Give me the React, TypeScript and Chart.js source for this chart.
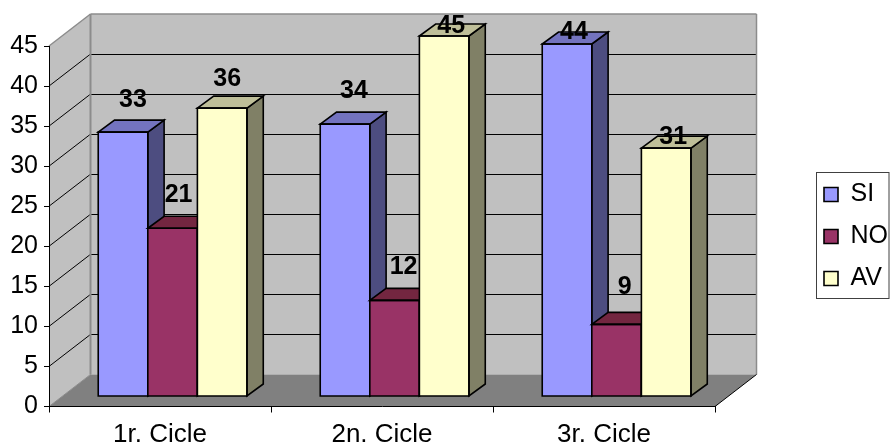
import React, { useEffect, useRef } from "react";
import { Chart, registerables } from "chart.js";

Chart.register(...registerables);

const categories = ["1r. Cicle", "2n. Cicle", "3r. Cicle"];
const si = [33, 34, 44];
const no = [21, 12, 9];
const av = [36, 45, 31];

const FONT = "'Liberation Sans', Arial, sans-serif";
const WALL_DX = 41.5;
const WALL_DY = 32;
const BAR_DX = 16.3;
const BAR_DY = 12;
const SHIFT_X = (WALL_DX - BAR_DX) / 2;
const SHIFT_Y = (WALL_DY - BAR_DY) / 2;

const faces = [
  { top: "#7373BF", side: "#4D4D80" },
  { top: "#732640", side: "#4D1A33" },
  { top: "#BFBF99", side: "#808066" },
];
// label nudges relative to each bar's top centre, [dataset][category]
const labelNudge = [
  [[10, -33], [9, -34.5], [7, -13]],
  [[6, -34.5], [9, -34], [8, -38]],
  [[5, -30], [7, -11], [7, -12]],
];

const poly = (ctx: CanvasRenderingContext2D, pts: number[][], fill?: string, stroke?: string, lw = 1) => {
  ctx.beginPath();
  pts.forEach((p, i) => (i ? ctx.lineTo(p[0], p[1]) : ctx.moveTo(p[0], p[1])));
  ctx.closePath();
  if (fill) {
    ctx.fillStyle = fill;
    ctx.fill();
  }
  if (stroke) {
    ctx.strokeStyle = stroke;
    ctx.lineWidth = lw;
    ctx.stroke();
  }
};

const line = (ctx: CanvasRenderingContext2D, x1: number, y1: number, x2: number, y2: number, c: string, lw = 1) => {
  ctx.beginPath();
  ctx.moveTo(x1, y1);
  ctx.lineTo(x2, y2);
  ctx.strokeStyle = c;
  ctx.lineWidth = lw;
  ctx.stroke();
};

const walls = {
  id: "walls",
  beforeDraw(chart: any) {
    const { ctx, chartArea: a, scales } = chart;
    const { left: l, right: r, top: t, bottom: b } = a;
    const dx = WALL_DX;
    const dy = WALL_DY;
    ctx.save();
    poly(ctx, [[l + dx, t - dy], [r + dx, t - dy], [r + dx, b - dy], [l + dx, b - dy]], "#C0C0C0");
    poly(ctx, [[l, t], [l + dx, t - dy], [l + dx, b - dy], [l, b]], "#C0C0C0");
    poly(ctx, [[l, b], [l + dx, b - dy], [r + dx, b - dy], [r, b]], "#808080");
    for (const tick of scales.y.ticks) {
      if (tick.value === 0 || tick.value === 45) continue;
      const y = scales.y.getPixelForValue(tick.value);
      const by = Math.round(y - dy) + 0.5;
      line(ctx, l + dx, by, r + dx, by, "#000000", 1);
      line(ctx, l, y, l + dx, y - dy, "#000000", 1);
    }
    const grey = "#8C8C8C";
    line(ctx, l, t, l + dx, t - dy, grey, 1.5);
    line(ctx, l + dx, t - dy, r + dx, t - dy, grey, 1.5);
    line(ctx, l + dx, t - dy, l + dx, b - dy, grey, 2);
    line(ctx, r + dx, t - dy, r + dx, b - dy, grey, 1.5);
    line(ctx, l, b, l + dx, b - dy, grey, 1);
    line(ctx, r, b, r + dx, b - dy, "#000000", 1);
    ctx.restore();
  },
};

const bars3d = {
  id: "bars3d",
  beforeDatasetsDraw(chart: any) {
    const { ctx } = chart;
    ctx.save();
    ctx.translate(SHIFT_X, -SHIFT_Y);
    ctx.lineJoin = "miter";
    chart.data.datasets.forEach((_: any, d: number) => {
      const meta = chart.getDatasetMeta(d);
      meta.data.forEach((el: any) => {
        el.draw(ctx);
        const x1 = el.x - el.width / 2;
        const x2 = el.x + el.width / 2;
        const y = el.y;
        const b = el.base;
        poly(ctx, [[x2, y], [x2 + BAR_DX, y - BAR_DY], [x2 + BAR_DX, b - BAR_DY], [x2, b]], faces[d].side, "#000000", 1.6);
        poly(ctx, [[x1, y], [x1 + BAR_DX, y - BAR_DY], [x2 + BAR_DX, y - BAR_DY], [x2, y]], faces[d].top, "#000000", 1.6);
        poly(ctx, [[x1, y], [x2, y], [x2, b], [x1, b]], undefined, "#000000", 1.6);
      });
    });
    ctx.fillStyle = "#000000";
    ctx.font = `bold 25px ${FONT}`;
    ctx.textAlign = "center";
    ctx.textBaseline = "middle";
    chart.data.datasets.forEach((ds: any, d: number) => {
      chart.getDatasetMeta(d).data.forEach((el: any, i: number) => {
        const n = labelNudge[d][i];
        ctx.fillText(String(ds.data[i]), el.x + n[0], el.y + n[1] + 1);
      });
    });
    ctx.restore();
    return false;
  },
};

const legendFrame = {
  id: "legendFrame",
  afterLayout(chart: any) {
    chart.legend.bottom -= 19;
    chart.legend.left += 8;
  },
  afterDraw(chart: any) {
    const { ctx } = chart;
    ctx.save();
    ctx.strokeStyle = "#404040";
    ctx.lineWidth = 1;
    ctx.strokeRect(816.5, 172.5, 72.5, 126);
    ctx.restore();
  },
};

export default function App() {
  const ref = useRef<HTMLCanvasElement>(null);
  useEffect(() => {
    document.body.style.margin = "0";
    document.body.style.overflow = "hidden";
    const chart = new Chart(ref.current as HTMLCanvasElement, {
      type: "bar",
      data: {
        labels: categories,
        datasets: [
          { label: "SI", data: si, backgroundColor: "#9999FF", borderWidth: 0 },
          { label: "NO", data: no, backgroundColor: "#993366", borderWidth: 0 },
          { label: "AV", data: av, backgroundColor: "#FFFFCC", borderWidth: 0 },
        ],
      },
      options: {
        responsive: false,
        animation: false,
        layout: { padding: { top: 46, bottom: 0, left: 0, right: 0 } },
        datasets: { bar: { categoryPercentage: 0.67, barPercentage: 1 } },
        plugins: {
          tooltip: { enabled: false },
          title: { display: false },
          legend: {
            display: true,
            position: "right",
            labels: {
              boxWidth: 14,
              boxHeight: 14,
              padding: 17,
              color: "#000000",
              font: { family: FONT, size: 25 },
              generateLabels(c: any) {
                return c.data.datasets.map((ds: any, i: number) => ({
                  text: ds.label,
                  fillStyle: ds.backgroundColor,
                  strokeStyle: "#000000",
                  lineWidth: 1.6,
                  fontColor: "#000000",
                  datasetIndex: i,
                  hidden: false,
                }));
              },
            },
          },
        },
        scales: {
          x: {
            afterFit(s: any) {
              s.height = 39.5;
            },
            border: { display: true, color: "#000000", width: 1 },
            grid: { drawOnChartArea: false, drawTicks: true, tickLength: 6, color: "#000000" },
            ticks: { color: "#000000", font: { family: FONT, size: 26 }, padding: 7, maxRotation: 0 },
          },
          y: {
            min: 0,
            max: 45,
            afterFit(s: any) {
              s.width = 49;
            },
            border: { display: true, color: "#000000", width: 1 },
            grid: { drawOnChartArea: false, drawTicks: true, tickLength: 5, color: "#000000" },
            ticks: { stepSize: 5, color: "#000000", font: { family: FONT, size: 25 }, padding: 6 },
          },
          spacer: {
            position: "right",
            display: true,
            afterFit(s: any) {
              s.width = 84;
            },
            border: { display: false },
            grid: { display: false, drawOnChartArea: false },
            ticks: { display: false },
          },
        },
      } as any,
      plugins: [walls, bars3d, legendFrame],
    } as any);
    return () => chart.destroy();
  }, []);
  return (
    <div style={{ position: "fixed", left: 0, top: 0, width: 890, height: 446 }}>
      <canvas ref={ref} width={890} height={446} style={{ display: "block" }} />
    </div>
  );
}
